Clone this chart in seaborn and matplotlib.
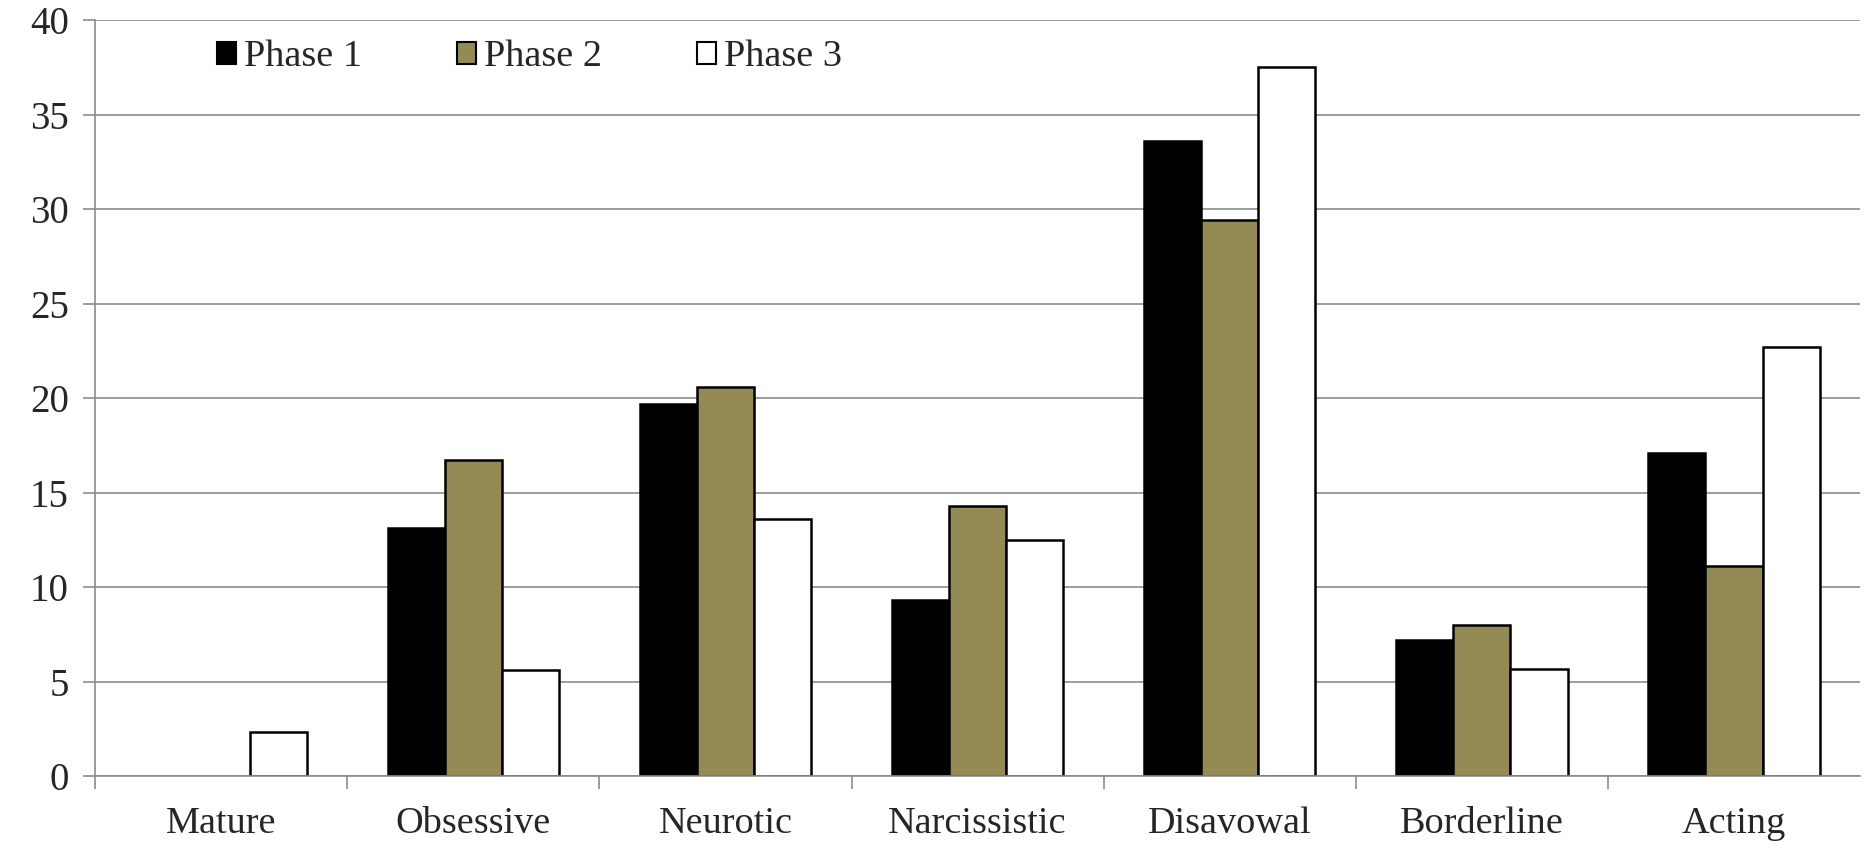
import matplotlib
matplotlib.use("Agg")
import matplotlib.pyplot as plt
import seaborn as sns
import pandas as pd

categories = ["Mature", "Obsessive", "Neurotic", "Narcissistic", "Disavowal", "Borderline", "Acting"]
phase1 = [0.0, 13.1, 19.7, 9.3, 33.6, 7.2, 17.1]
phase2 = [0.0, 16.7, 20.6, 14.3, 29.4, 8.0, 11.1]
phase3 = [2.35, 5.6, 13.6, 12.5, 37.5, 5.65, 22.7]
series_names = ["Phase 1", "Phase 2", "Phase 3"]
colors = ["#000000", "#948A54", "#FFFFFF"]

rows = []
for name, vals in zip(series_names, [phase1, phase2, phase3]):
    for c, v in zip(categories, vals):
        rows.append({"cat": c, "phase": name, "value": v})
df = pd.DataFrame(rows)

sns.set_style("white")
plt.rcParams["font.family"] = ["Liberation Serif", "DejaVu Serif"]

fig = plt.figure(figsize=(18.66, 8.52), dpi=100)
ax = fig.add_axes([0.051, 0.0892, 0.9968 - 0.051, 0.9765 - 0.0892])

sns.barplot(data=df, x="cat", y="value", hue="phase", order=categories,
            hue_order=series_names, palette=colors, width=0.68,
            edgecolor="black", linewidth=1.8, saturation=1, ax=ax,
            errorbar=None)

for p in ax.patches:
    if hasattr(p, "get_height") and p.get_height() == 0:
        p.set_linewidth(0)

ax.set_xlim(-0.5, 6.5)
ax.set_ylim(0, 40)
ax.set_yticks(range(0, 41, 5))
ax.set_xlabel("")
ax.set_ylabel("")

gray = "#8C8C8C"
ax.yaxis.grid(True, color=gray, linewidth=1.2)
ax.xaxis.grid(False)
ax.set_axisbelow(True)
for s in ["top", "right"]:
    ax.spines[s].set_visible(False)
for s in ["left", "bottom"]:
    ax.spines[s].set_color(gray)
    ax.spines[s].set_linewidth(1.2)

ax.tick_params(axis="y", which="major", length=9, width=1.2, color=gray,
               labelsize=28, pad=10, left=True)
ax.tick_params(axis="x", which="major", length=0, labelsize=27.5, pad=22)
ax.set_xticks([i - 0.5 for i in range(7)], minor=True)
ax.tick_params(axis="x", which="minor", length=9, width=1.2, color=gray, bottom=True)

h, l = ax.get_legend_handles_labels()
if ax.get_legend() is not None:
    ax.get_legend().remove()
leg = ax.legend(h, l, loc="center left", bbox_to_anchor=(0.069, 0.951), ncol=3,
                frameon=False, fontsize=27.5, handlelength=0.5, handleheight=0.5,
                handletextpad=0.2, columnspacing=2.5, borderaxespad=0, borderpad=0)
for hd in leg.legend_handles:
    hd.set_edgecolor("black")
    hd.set_linewidth(1.5)

fig.savefig("out.png", dpi=100)
